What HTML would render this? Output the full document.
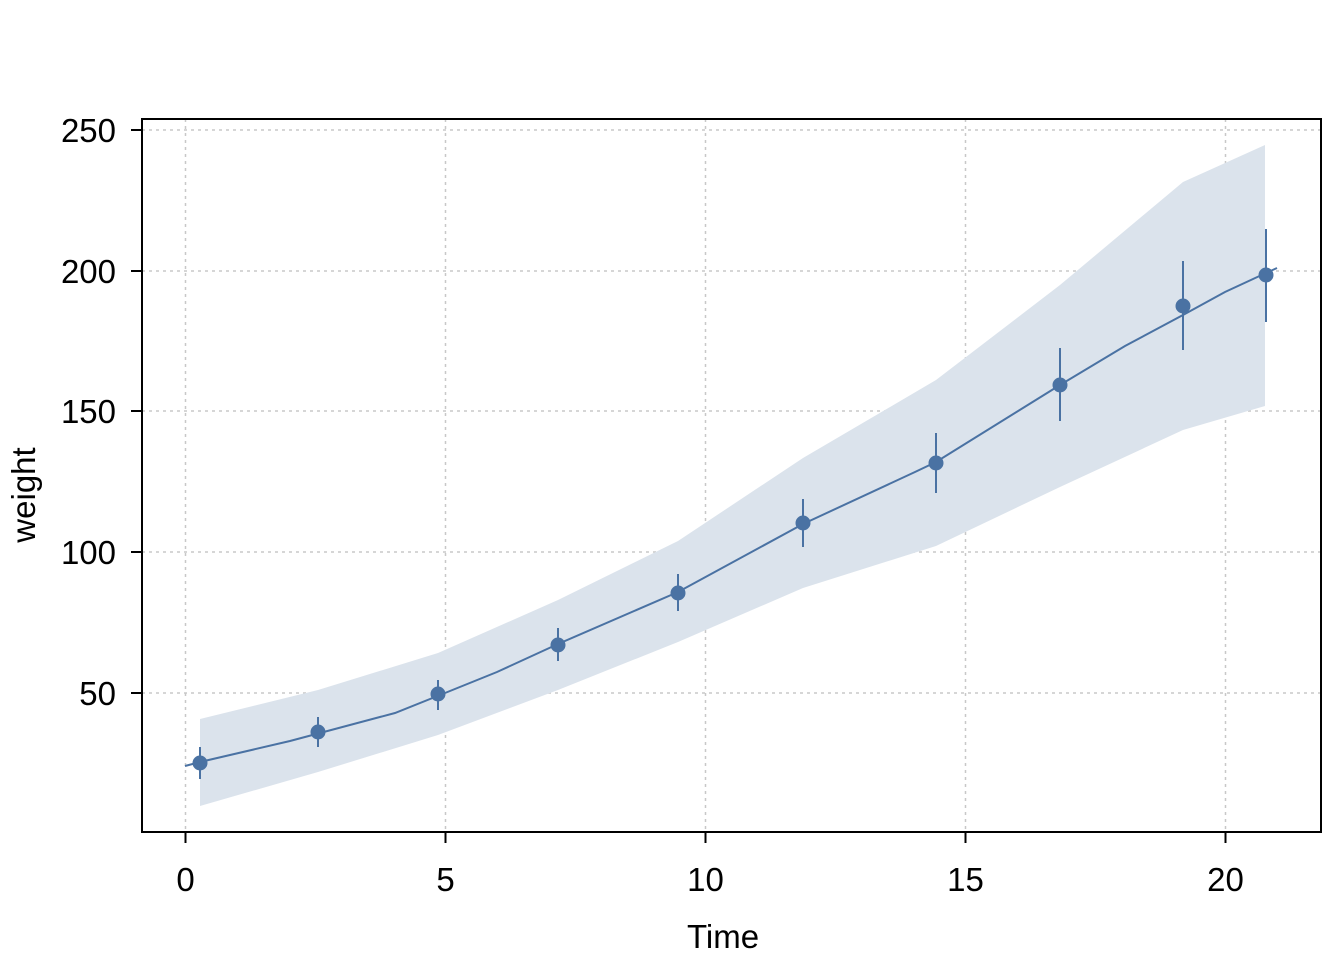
<!DOCTYPE html>
<html><head><meta charset="utf-8"><style>html,body{margin:0;padding:0;background:#fff}</style></head>
<body>
<svg width="1344" height="960" xmlns="http://www.w3.org/2000/svg" font-family="Liberation Sans, sans-serif">
<rect width="1344" height="960" fill="#fff"/>
<g stroke="#c8c8c8" stroke-width="1.5" stroke-dasharray="3,4">
<line x1="185.5" y1="119" x2="185.5" y2="832"/><line x1="445.5" y1="119" x2="445.5" y2="832"/>
<line x1="705.5" y1="119" x2="705.5" y2="832"/><line x1="965.5" y1="119" x2="965.5" y2="832"/>
<line x1="1225.5" y1="119" x2="1225.5" y2="832"/>
<line x1="142" y1="130" x2="1321" y2="130"/><line x1="142" y1="271" x2="1321" y2="271"/>
<line x1="142" y1="411" x2="1321" y2="411"/><line x1="142" y1="552" x2="1321" y2="552"/>
<line x1="142" y1="693" x2="1321" y2="693"/>
</g>
<polygon fill="#dbe3ec" points="200,719 318,690 438,653 558,600 678,541 803,458 936,380 1060,285 1183,182 1265,145 1265,406 1183,430 1060,487 936,546 803,588 678,642 558,690 438,735 318,772 200,806"/>
<polyline fill="none" stroke="#4a72a3" stroke-width="2" points="185,766 200,762 290,741 395,713 445,693 497,672 558,644 678,592 803,524 915,472 936,462 1060,385 1125,346 1183,315 1225,292 1266,273 1277,268"/>
<g stroke="#4a72a3" stroke-width="2" fill="#4a72a3">
<line x1="200" y1="747" x2="200" y2="779"/><circle cx="200" cy="763" r="6.5"/>
<line x1="318" y1="717" x2="318" y2="747"/><circle cx="318" cy="732" r="6.5"/>
<line x1="438" y1="680" x2="438" y2="710"/><circle cx="438" cy="694" r="6.5"/>
<line x1="558" y1="628" x2="558" y2="661"/><circle cx="558" cy="645" r="6.5"/>
<line x1="678" y1="574" x2="678" y2="611"/><circle cx="678" cy="593" r="6.5"/>
<line x1="803" y1="499" x2="803" y2="547"/><circle cx="803" cy="523" r="6.5"/>
<line x1="936" y1="433" x2="936" y2="493"/><circle cx="936" cy="463" r="6.5"/>
<line x1="1060" y1="348" x2="1060" y2="421"/><circle cx="1060" cy="385" r="6.5"/>
<line x1="1183" y1="261" x2="1183" y2="350"/><circle cx="1183" cy="306" r="6.5"/>
<line x1="1266" y1="229" x2="1266" y2="322"/><circle cx="1266" cy="275" r="6.5"/>
</g>
<rect x="142" y="119" width="1179" height="713" fill="none" stroke="#000" stroke-width="2"/>
<g stroke="#000" stroke-width="2">
<line x1="185.5" y1="832" x2="185.5" y2="843"/><line x1="445.5" y1="832" x2="445.5" y2="843"/>
<line x1="705.5" y1="832" x2="705.5" y2="843"/><line x1="965.5" y1="832" x2="965.5" y2="843"/>
<line x1="1225.5" y1="832" x2="1225.5" y2="843"/>
<line x1="131" y1="130" x2="142" y2="130"/><line x1="131" y1="271" x2="142" y2="271"/>
<line x1="131" y1="411" x2="142" y2="411"/><line x1="131" y1="552" x2="142" y2="552"/>
<line x1="131" y1="693" x2="142" y2="693"/>
</g>
<g font-size="33" fill="#000" text-anchor="middle">
<text x="185.5" y="891">0</text><text x="445.5" y="891">5</text><text x="705.5" y="891">10</text>
<text x="965.5" y="891">15</text><text x="1225.5" y="891">20</text>
<text x="723" y="948">Time</text>
</g>
<g font-size="33" fill="#000" text-anchor="end">
<text x="116" y="142">250</text><text x="116" y="283">200</text><text x="116" y="423">150</text>
<text x="116" y="564">100</text><text x="116" y="705">50</text>
</g>
<text x="35" y="495" font-size="33" text-anchor="middle" transform="rotate(-90 35 495)">weight</text>
</svg>
</body></html>
